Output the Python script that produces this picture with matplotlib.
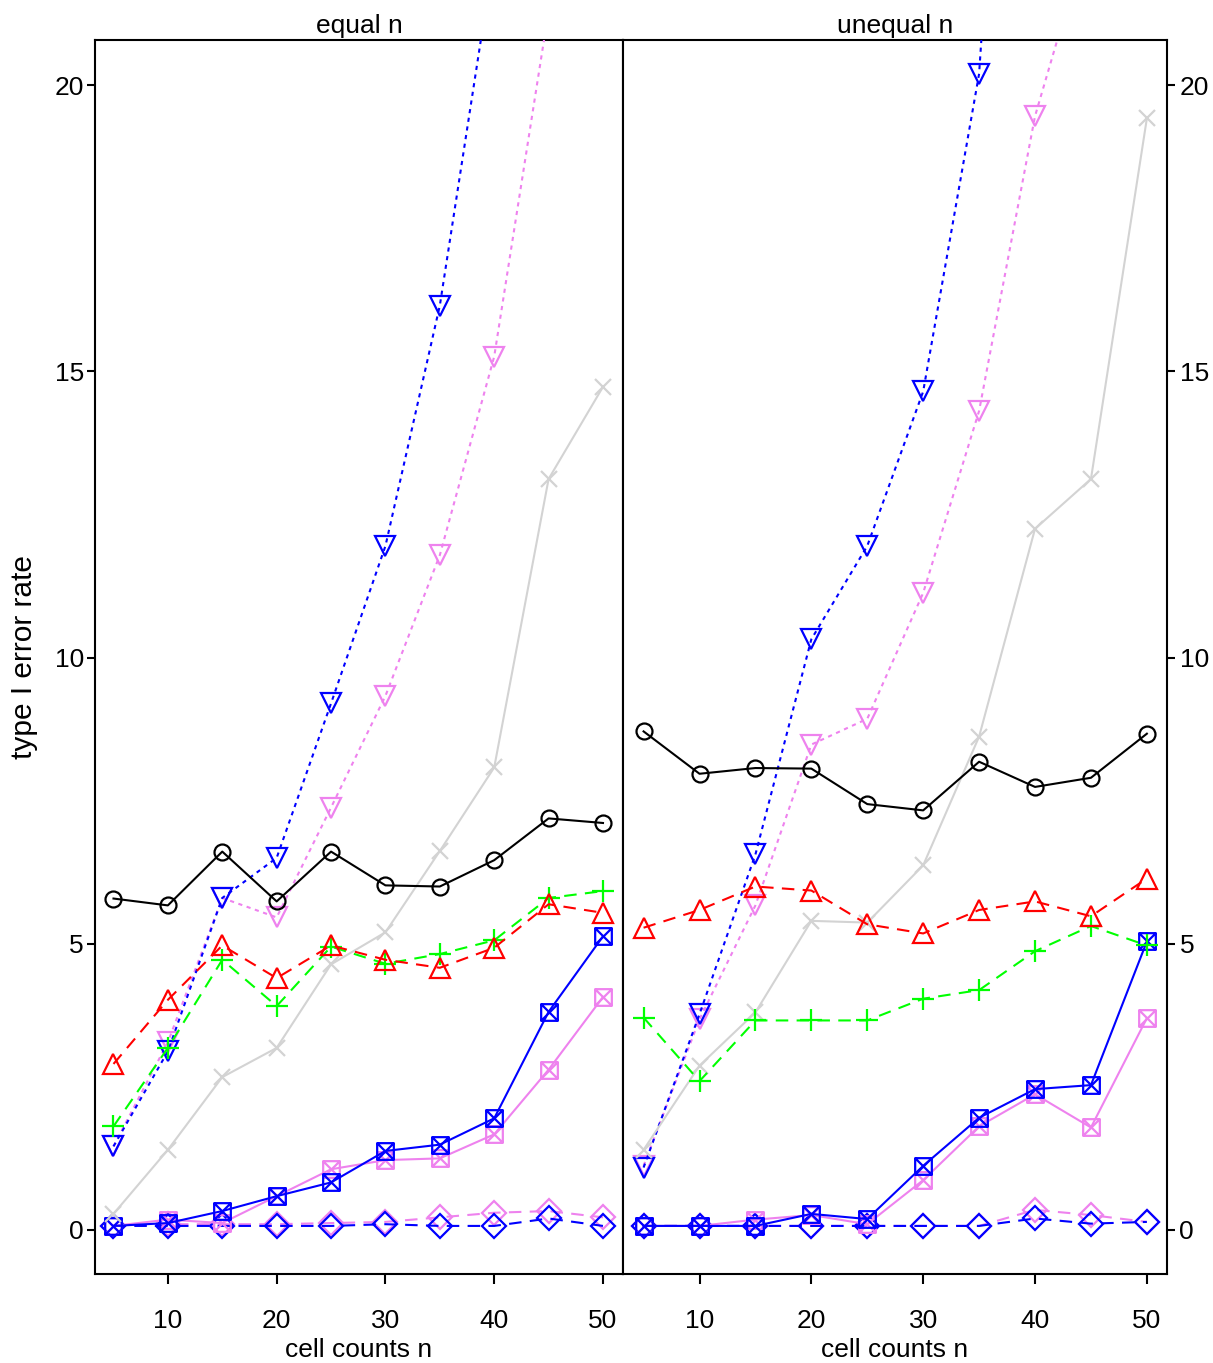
import matplotlib
matplotlib.use("Agg")
import matplotlib.pyplot as plt
from matplotlib import font_manager
from matplotlib.path import Path
import numpy as np

# cell counts on the x axis
n = [5, 10, 15, 20, 25, 30, 35, 40, 45, 50]

# ---- equal n (left panel) ----
eq_circle = [5.79, 5.67, 6.61, 5.74, 6.61, 6.02, 6.00, 6.46, 7.19, 7.11]
eq_tri_up = [2.90, 4.02, 4.97, 4.40, 4.97, 4.72, 4.58, 4.93, 5.69, 5.54]
eq_plus = [1.81, 3.18, 4.72, 3.91, 4.95, 4.65, 4.82, 5.06, 5.80, 5.92]
eq_gray_x = [0.28, 1.40, 2.67, 3.18, 4.64, 5.20, 6.62, 8.08, 13.12, 14.73]
eq_blue_down = [1.46, 3.12, 5.80, 6.50, 9.20, 11.95, 16.15, 22.3, 28.0, 34.0]
eq_violet_down = [1.46, 3.28, 5.80, 5.46, 7.38, 9.33, 11.79, 15.26, 21.3, 27.0]
eq_blue_sqx = [0.07, 0.12, 0.33, 0.59, 0.83, 1.38, 1.49, 1.95, 3.81, 5.13]
eq_violet_sqx = [0.07, 0.18, 0.12, 0.59, 1.06, 1.22, 1.25, 1.67, 2.80, 4.07]
eq_blue_dia = [0.07, 0.07, 0.07, 0.07, 0.07, 0.10, 0.07, 0.07, 0.20, 0.07]
eq_violet_dia = [0.07, 0.10, 0.10, 0.10, 0.12, 0.14, 0.22, 0.30, 0.33, 0.22]

# ---- unequal n (right panel) ----
un_circle = [8.71, 7.97, 8.07, 8.06, 7.44, 7.33, 8.18, 7.74, 7.90, 8.67]
un_tri_up = [5.28, 5.59, 6.00, 5.93, 5.34, 5.18, 5.59, 5.74, 5.48, 6.14]
un_plus = [3.71, 2.60, 3.66, 3.66, 3.66, 4.04, 4.19, 4.87, 5.31, 4.97]
un_gray_x = [1.40, 2.87, 3.80, 5.40, 5.37, 6.37, 8.62, 12.25, 13.12, 19.42]
un_blue_down = [1.09, 3.77, 6.56, 10.32, 11.95, 14.65, 20.2, 35.0, 40.0, 45.0]
un_violet_down = [1.12, 3.68, 5.67, 8.48, 8.93, 11.13, 14.31, 19.46, 22.8, 27.0]
un_blue_sqx = [0.07, 0.07, 0.07, 0.28, 0.19, 1.12, 1.96, 2.46, 2.53, 5.04]
un_violet_sqx = [0.07, 0.07, 0.18, 0.26, 0.10, 0.87, 1.81, 2.37, 1.79, 3.70]
un_blue_dia = [0.07, 0.07, 0.07, 0.07, 0.07, 0.07, 0.07, 0.20, 0.11, 0.14]
un_violet_dia = [0.07, 0.07, 0.07, 0.07, 0.07, 0.07, 0.07, 0.35, 0.26, 0.14]

panel_titles = ["equal n", "unequal n"]
y_ticks = [0, 5, 10, 15, 20]
x_ticks = [10, 20, 30, 40, 50]

# font: narrow Arial look if available
names = {f.name for f in font_manager.fontManager.ttflist}
fam = "Liberation Sans Narrow" if "Liberation Sans Narrow" in names else "Liberation Sans"
plt.rcParams['font.family'] = [fam, 'DejaVu Sans']
plt.rcParams['font.size'] = 19

# square with an x inside
sqx = Path([(-1, -1), (1, -1), (1, 1), (-1, 1), (-1, -1),
            (-1, -1), (1, 1), (-1, 1), (1, -1)],
           [Path.MOVETO, Path.LINETO, Path.LINETO, Path.LINETO, Path.CLOSEPOLY,
            Path.MOVETO, Path.LINETO, Path.MOVETO, Path.LINETO])

BLUE = '#0000ff'
VIOLET = '#ee82ee'
dash = (0, (6, 4))
dot = (0, (2, 2.2))

# colour, marker, marker size, line style
styles = [
    ('black', 'o', 11.5, '-'),
    ('#ff0000', '^', 15, dash),
    ('#00ff00', '+', 16, dash),
    ('#d3d3d3', 'x', 12, '-'),
    (BLUE, 'v', 15, dot),
    (VIOLET, 'v', 15, dot),
    (BLUE, sqx, 12, '-'),
    (VIOLET, sqx, 12, '-'),
    (BLUE, 'D', 12.5, dash),
    (VIOLET, 'D', 12.5, dash),
]
draw_order = [9, 8, 7, 6, 5, 4, 3, 2, 1, 0]

eq_series = [eq_circle, eq_tri_up, eq_plus, eq_gray_x, eq_blue_down,
             eq_violet_down, eq_blue_sqx, eq_violet_sqx, eq_blue_dia, eq_violet_dia]
un_series = [un_circle, un_tri_up, un_plus, un_gray_x, un_blue_down,
             un_violet_down, un_blue_sqx, un_violet_sqx, un_blue_dia, un_violet_dia]

W, H = 1213, 1363
fig = plt.figure(figsize=(W / 100, H / 100), dpi=100)
ax1 = fig.add_axes([95 / W, 1 - 1274 / H, 528 / W, 1234 / H])
ax2 = fig.add_axes([623 / W, 1 - 1274 / H, 544 / W, 1234 / H])

for ax, series, title in [(ax1, eq_series, panel_titles[0]), (ax2, un_series, panel_titles[1])]:
    for k in draw_order:
        c, m, ms, ls = styles[k]
        ax.plot(n, series[k], color=c, marker=m, markersize=ms, linestyle=ls,
                linewidth=1.5, markerfacecolor='none', markeredgecolor=c,
                markeredgewidth=1.6, zorder=3 + (10 - k) * 0.1, clip_on=True)
    ax.set_ylim(-0.77, 20.79)
    ax.set_xticks(x_ticks)
    ax.set_yticks(y_ticks)
    ax.set_xlabel('cell counts n', labelpad=4)
    ax.set_title(title, pad=5, fontsize=19)
    for s in ax.spines.values():
        s.set_linewidth(1.5)
    ax.tick_params(axis='x', direction='out', length=7, width=1.5, pad=18, labelsize=19)
    ax.tick_params(axis='y', direction='out', length=6, width=1.5, labelsize=19)

ax1.set_xlim(3.3, 51.84)
ax2.set_xlim(3.16, 51.8)
ax1.set_ylabel('type I error rate', labelpad=12, fontsize=21.5)
ax1.tick_params(axis='y', left=True, right=False, pad=2)
ax2.tick_params(axis='y', left=False, right=True, labelleft=False, labelright=True, pad=3)

fig.savefig('out.png', dpi=100)
